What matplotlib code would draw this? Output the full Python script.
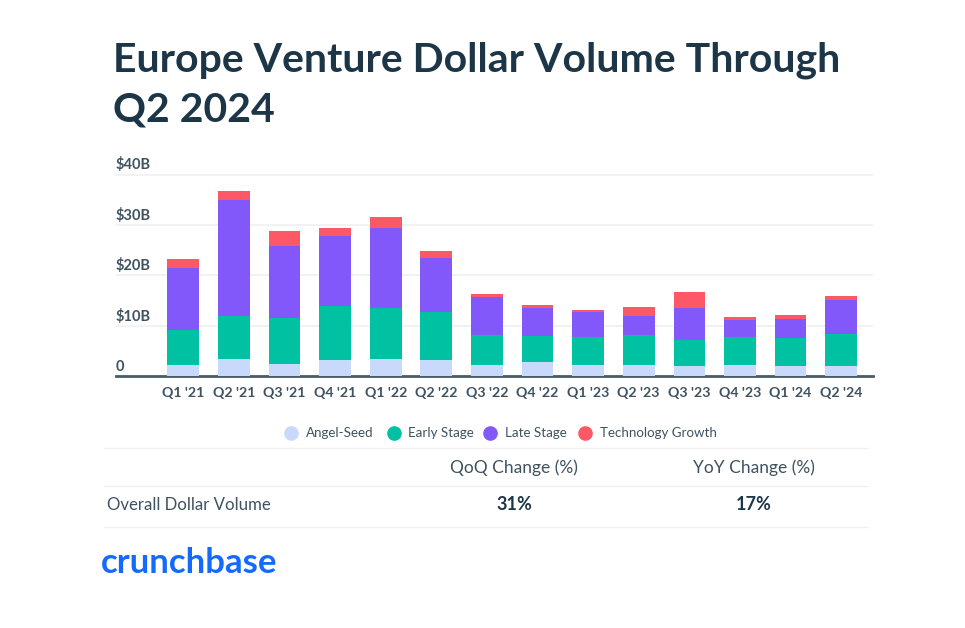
import matplotlib
matplotlib.use("Agg")
import matplotlib.pyplot as plt
from matplotlib.lines import Line2D
import numpy as np

W, H = 965, 628
quarters = ["Q1 '21", "Q2 '21", "Q3 '21", "Q4 '21", "Q1 '22", "Q2 '22", "Q3 '22",
            "Q4 '22", "Q1 '23", "Q2 '23", "Q3 '23", "Q4 '23", "Q1 '24", "Q2 '24"]
angel_seed = [2.25, 3.3, 2.45, 3.1, 3.3, 3.1, 2.25, 2.7, 2.25, 2.25, 2.05, 2.25, 2.05, 2.05]
early_stage = [6.85, 8.6, 9.05, 10.7, 10.1, 9.7, 5.85, 5.3, 5.5, 5.85, 5.1, 5.5, 5.5, 6.3]
late_stage = [12.4, 23.1, 14.4, 13.9, 16.0, 10.6, 7.5, 5.4, 5.05, 3.75, 6.25, 3.3, 3.85, 6.65]
tech_growth = [1.7, 1.8, 2.8, 1.6, 2.2, 1.5, 0.7, 0.6, 0.25, 1.75, 3.35, 0.65, 0.8, 0.9]
series = [("Angel-Seed", angel_seed, "#c9d9fb"), ("Early Stage", early_stage, "#00c2a2"),
          ("Late Stage", late_stage, "#8358fb"), ("Technology Growth", tech_growth, "#fd5865")]
y_ticks = [0, 10, 20, 30, 40]
y_labels = ["0", "$10B", "$20B", "$30B", "$40B"]
table_headers = ["QoQ Change (%)", "YoY Change (%)"]
table_row = "Overall Dollar Volume"
table_values = ["31%", "17%"]

DARK = "#1c3648"
TXT = "#3f5260"
plt.rcParams["font.family"] = ["Lato", "DejaVu Sans"]
fig = plt.figure(figsize=(W / 100, H / 100), dpi=100, facecolor="white")

def fx(x): return x / W
def fy(y): return 1 - y / H

PX_PER_UNIT = (376 - 174.5) / 40
ax = fig.add_axes([fx(116), fy(376), (873 - 116) / W, (376 - 170) / H])
x = np.arange(len(quarters))
bottom = np.zeros(len(quarters))
for name, vals, col in series:
    ax.bar(x, vals, 0.625, bottom=bottom, color=col, zorder=3)
    bottom += np.array(vals)
ax.set_xlim(-1.33, 13.63)
ax.set_ylim(0, (376 - 170) / PX_PER_UNIT)
ax.set_yticks(y_ticks)
ax.set_yticklabels([])
ax.grid(axis="y", color="#eff0f1", lw=1.2, zorder=0)
ax.set_axisbelow(True)
ax.tick_params(length=0)
ax.set_xticks(x)
ax.set_xticklabels(quarters, fontsize=10.2, color=TXT, fontweight="bold")
ax.tick_params(axis="x", pad=8)
for s in ["top", "left", "right"]:
    ax.spines[s].set_visible(False)
ax.spines["bottom"].set_color("#4a5c68")
ax.spines["bottom"].set_linewidth(2)
for t, l in zip(y_ticks, y_labels):
    ax.annotate(l, (0, t), xycoords=("axes fraction", "data"), xytext=(0, 1.5),
                textcoords="offset points", fontsize=10.5, color=TXT, va="bottom", ha="left",
                fontweight="bold")

fig.text(fx(113), fy(60), "Europe Venture Dollar Volume Through", fontsize=29.5, fontweight="bold", color=DARK, va="center")
fig.text(fx(113), fy(110), "Q2 2024", fontsize=29.5, fontweight="bold", color=DARK, va="center")

# legend
leg_x = [(291, 306), (394, 408), (490, 505), (585, 600)]
for (name, _, col), (mx, tx) in zip(series, leg_x):
    fig.add_artist(Line2D([fx(mx)], [fy(433)], marker="o", ms=9.5, color=col, mec=col, ls="none"))
    fig.text(fx(tx), fy(433), name, fontsize=9.6, color=TXT, va="center")

for yy in (447.5, 485.5, 527):
    fig.add_artist(Line2D([fx(104), fx(868)], [fy(yy)] * 2, color="#eff0f1", lw=1))
for cx, h, v in zip((514, 754), table_headers, table_values):
    fig.text(fx(cx), fy(468), h, fontsize=12.5, color=TXT, ha="center", va="center")
    fig.text(fx(cx), fy(504), v, fontsize=13, color=DARK, fontweight="bold", ha="center", va="center")
fig.text(fx(107), fy(505), table_row, fontsize=12.1, color=TXT, va="center")
fig.text(fx(101), fy(563), "crunchbase", fontsize=25, color="#146aff", va="center", fontweight="bold")

fig.savefig("out.png", dpi=100)
